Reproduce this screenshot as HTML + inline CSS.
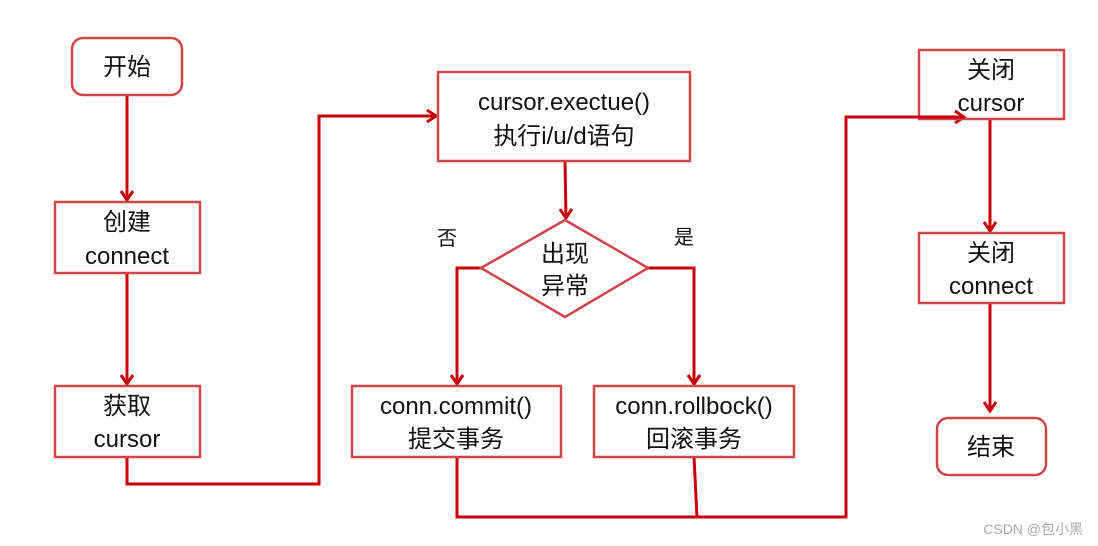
<!DOCTYPE html>
<html><head><meta charset="utf-8"><style>
html,body{margin:0;padding:0;background:#fff;}
svg{display:block}
text{font-family:"Liberation Sans","Noto Sans CJK SC",sans-serif;fill:#111;}
</style></head><body>
<svg width="1098" height="546" viewBox="0 0 1098 546" xmlns="http://www.w3.org/2000/svg">
<defs>
<marker id="a" markerWidth="14" markerHeight="14" refX="11" refY="7" orient="auto" markerUnits="userSpaceOnUse">
<path d="M2,1 L11,7 L2,13" fill="none" stroke="#c8000a" stroke-width="3"/>
</marker>
</defs>
<g fill="none" stroke="#c8000a" stroke-width="3">
<path d="M127,95 V200" marker-end="url(#a)"/>
<path d="M127,273 V384" marker-end="url(#a)"/>
<path d="M127,457 V484 H319 V116 H436" marker-end="url(#a)"/>
<path d="M565,161 L566,218" marker-end="url(#a)"/>
<path d="M481,268 H457 V384" marker-end="url(#a)"/>
<path d="M648,268 H694 V384" marker-end="url(#a)"/>
<path d="M457,457 V517 H846 V117 H964" marker-end="url(#a)"/>
<path d="M694,457 L697,517"/>
<path d="M990,119 V231" marker-end="url(#a)"/>
<path d="M990,303 V411" marker-end="url(#a)"/>
</g>
<g fill="#fff" stroke="#d0454c" stroke-width="2.5">
<rect x="72" y="38" width="110" height="57" rx="11"/>
<rect x="55" y="202" width="145" height="71"/>
<rect x="55" y="386" width="145" height="71"/>
<rect x="438" y="72" width="252" height="89"/>
<path d="M565,220 L648,268 L565,317 L481,268 Z"/>
<rect x="352" y="386" width="209" height="71"/>
<rect x="594" y="386" width="200" height="71"/>
<rect x="919" y="233" width="145" height="70"/>
<rect x="937" y="418" width="109" height="57" rx="11"/>
</g>
<rect x="919" y="50" width="145" height="69" fill="none" stroke="#d0454c" stroke-width="2.5"/>
<path d="M846,117 H964" fill="none" stroke="#c8000a" stroke-width="3"/>
<g font-size="24" text-anchor="middle">
<text x="127" y="75">开始</text>
<text x="127" y="230">创建</text>
<text x="127" y="264">connect</text>
<text x="127" y="414">获取</text>
<text x="127" y="447">cursor</text>
<text x="564" y="110">cursor.exectue()</text>
<text x="564" y="144">执行i/u/d语句</text>
<text x="565" y="262">出现</text>
<text x="565" y="294">异常</text>
<text x="456" y="414">conn.commit()</text>
<text x="456" y="447">提交事务</text>
<text x="694" y="414">conn.rollbock()</text>
<text x="694" y="447">回滚事务</text>
<text x="991" y="78">关闭</text>
<text x="991" y="111">cursor</text>
<text x="991" y="261">关闭</text>
<text x="991" y="294">connect</text>
<text x="991" y="455">结束</text>
</g>
<text x="447" y="245" font-size="20" text-anchor="middle">否</text>
<text x="684" y="244" font-size="20" text-anchor="middle">是</text>
<text x="1083" y="534" font-size="14" text-anchor="end" style="fill:#aaa">CSDN @包小黑</text>
</svg>
</body></html>
